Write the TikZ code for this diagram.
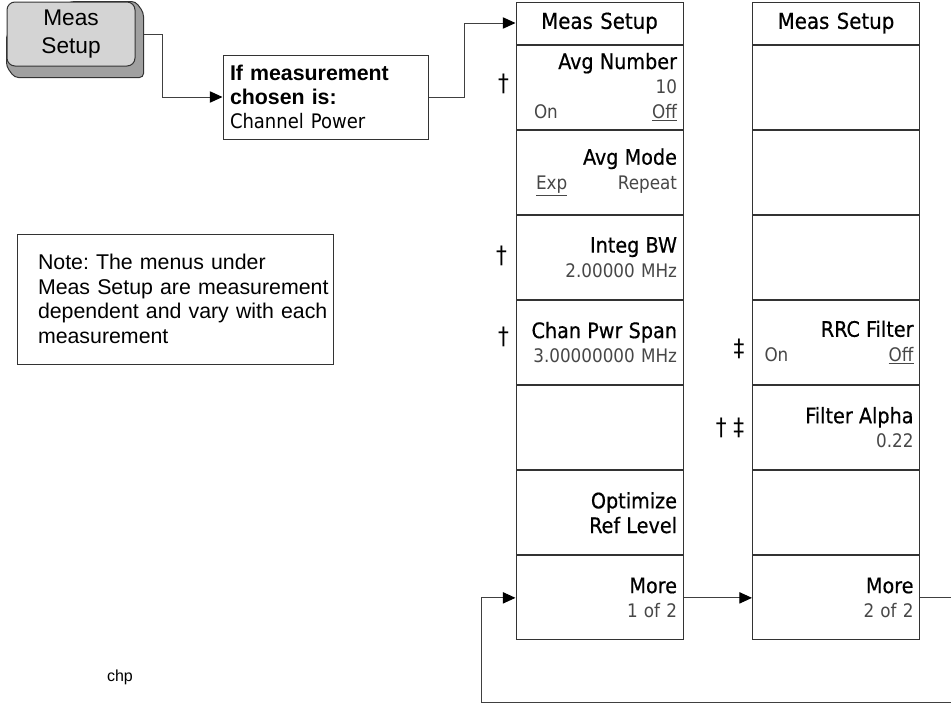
\documentclass[tikz,border=0pt]{standalone}
\usepackage{fontspec}
\setmainfont{Liberation Sans}
\newfontfamily\hpfont{DejaVu Sans Condensed}
\newfontfamily\hpbold[FakeBold=0.5]{DejaVu Sans Condensed}
\usetikzlibrary{
    arrows.meta,calc,positioning,backgrounds
}
\newcommand{\keylbl}[1]{{\hpbold\fontsize{16}{18.5}\selectfont\color{black}#1}}

\begin{document}
\begin{tikzpicture}[
  x=0.75pt, y=-0.75pt,
  >={Triangle[length=9.5pt,width=8.5pt,color=black]},
  softkey/.style={draw=black!80, line width=0.75pt, minimum width=125.25pt,
    minimum height=63.1pt, inner xsep=4.5pt, inner ysep=0pt, text width=116.25pt,
    align=right, text=black!72, font=\hpfont\fontsize{14}{18.5}\selectfont},
  keyhead/.style={softkey, minimum height=31.5pt, align=center, text=black,
    font=\hpbold\fontsize{16.5}{18}\selectfont},
  measkey/.style={draw=black!80, line width=0.75pt, fill=keyface, rounded corners=6pt,
    minimum width=96pt, minimum height=48pt, align=center,
    font=\fontsize{17}{21}\selectfont},
  ifbox/.style={draw=black!80, line width=0.75pt, minimum width=153.75pt,
    minimum height=63pt, inner xsep=5.25pt, text width=143.25pt, align=left,
    font=\fontsize{16}{18}\selectfont},
  notebox/.style={draw=black!80, line width=0.75pt, minimum width=237pt,
    minimum height=97.5pt, inner xsep=15.75pt, text width=205.5pt, align=left,
    font=\fontsize{16}{18.4}\selectfont\frenchspacing},
  fnmark/.style={inner sep=0pt, font=\hpfont\fontsize{18}{20}\selectfont},
  conn/.style={draw=black!75, line width=0.75pt, ->}
]
  \definecolor{keyface}{RGB}{212,212,212}
  \definecolor{keyshade}{RGB}{160,160,160}

  \useasboundingbox (0,0) rectangle (951,707);
  \clip (0,0) rectangle (951,707);

  % hard key with its raised edge
  \node[measkey] (measkey) at (71,34) {Meas\\Setup};
  \begin{scope}[on background layer]
    \filldraw[draw=black!80, line width=0.75pt, fill=keyshade, rounded corners=3pt]
      (measkey.north) -- (measkey.north east) -- ($(measkey.north east)+(8,11)$)
      -- ($(measkey.south east)+(8,11)$) -- ($(measkey.south west)+(8,11)$)
      -- (measkey.south west) -- (measkey.west) -- cycle;
  \end{scope}

  % condition box and note
  \node[ifbox] (ifbox) at (325.5,97)
    {\textbf{If measurement}\\\textbf{chosen is:}\\{\hpfont\fontsize{15}{18}\selectfont Channel Power}};
  \node[notebox] (note) at (175,299)
    {\mbox{Note: The menus under}\\\mbox{Meas Setup are measurement}\\
     \mbox{dependent and vary with each}\\\mbox{measurement}};
  \node[font=\fontsize{12}{14}\selectfont] (chp) at (120,677) {chp};

  % menu 1 of 2
  \node[keyhead] (m1h) at (599.5,23) {Meas Setup};
  \node[softkey, below=0pt of m1h] (m1a) {\keylbl{Avg Number}\\10\\\hspace*{9pt}On\hfill\underline{Off}};
  \node[softkey, below=0pt of m1a] (m1b) {\keylbl{Avg Mode}\\\hspace*{10.5pt}\underline{Exp}\hfill Repeat};
  \node[softkey, below=0pt of m1b] (m1c) {\keylbl{Integ BW}\\2.00000 MHz};
  \node[softkey, below=0pt of m1c] (m1d) {\keylbl{Chan Pwr Span}\\3.00000000 MHz};
  \node[softkey, below=0pt of m1d] (m1e) {};
  \node[softkey, below=0pt of m1e] (m1f) {\keylbl{Optimize}\\\keylbl{Ref Level}};
  \node[softkey, below=0pt of m1f] (m1g) {\keylbl{More}\\1 of 2};

  % menu 2 of 2
  \node[keyhead] (m2h) at (836,23) {Meas Setup};
  \node[softkey, below=0pt of m2h] (m2a) {};
  \node[softkey, below=0pt of m2a] (m2b) {};
  \node[softkey, below=0pt of m2b] (m2c) {};
  \node[softkey, below=0pt of m2c] (m2d) {\keylbl{RRC Filter}\\\hspace*{4.5pt}On\hfill\underline{Off}};
  \node[softkey, below=0pt of m2d] (m2e) {\keylbl{Filter Alpha}\\0.22};
  \node[softkey, below=0pt of m2e] (m2f) {};
  \node[softkey, below=0pt of m2f] (m2g) {\keylbl{More}\\2 of 2};

  % footnote marks
  \node[fnmark] (dg1) at ($(m1a.west)+(-12,-3)$) {†};
  \node[fnmark] (dg2) at ($(m1c.west)+(-14,-1)$) {†};
  \node[fnmark] (dg3) at ($(m1d.west)+(-12,-6)$) {†};
  \node[fnmark] (dg4) at ($(m2d.west)+(-13,6)$) {‡};
  \node[fnmark] (dg5) at ($(m2e.west)+(-22,0)$) {† ‡};

  % connectors
  \coordinate (loopright) at (965,702);
  \coordinate (loopleft) at (481,702);
  \draw[conn] ([xshift=6pt]measkey.east) -- ++(19,0) |- (ifbox.west);
  \draw[conn] (ifbox.east) -- ++(36,0) |- (m1h.west);
  \draw[conn] (m1g.east) -- (m2g.west);
  \draw[conn] (m2g.east) -| (loopright) -- (loopleft) |- (m1g.west);
\end{tikzpicture}
\end{document}
